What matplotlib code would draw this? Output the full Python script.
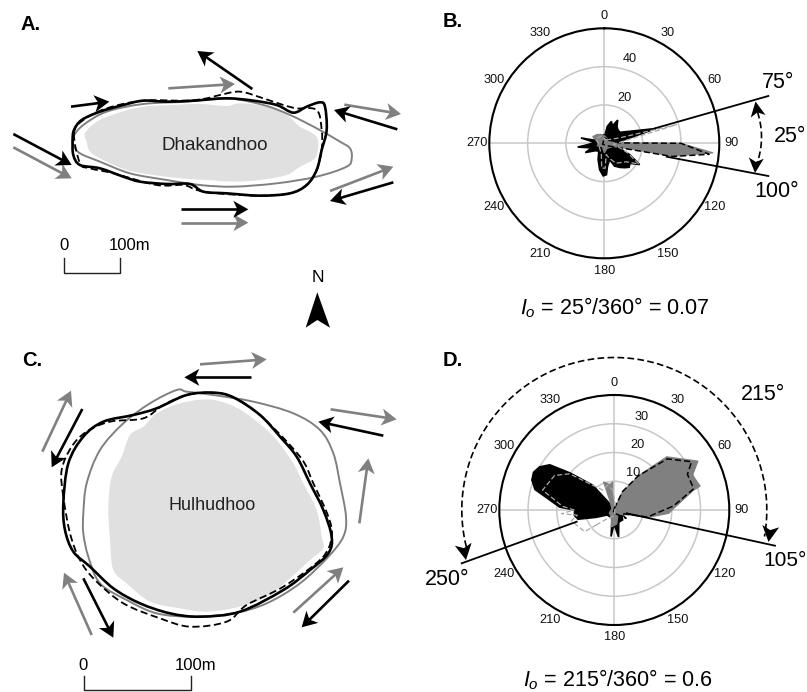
import numpy as np
import matplotlib
matplotlib.use('Agg')
import matplotlib.pyplot as plt
from matplotlib.patches import Polygon, PathPatch
from matplotlib.path import Path

plt.rcParams['font.family'] = ['Liberation Sans', 'DejaVu Sans']
plt.rcParams['mathtext.fontset'] = 'custom'
plt.rcParams['mathtext.rm'] = 'Liberation Sans'
plt.rcParams['mathtext.it'] = 'Liberation Sans:italic'

W, H = 807, 692
GREY = '#808080'
LIGHT = '#e0e0e0'
DASH = (0, (4, 2))

# Island outlines, traced at 3x scale (panel A offset 0,30 and panel C offset 0,340)
dhak_land = [(255, 310), (290, 275), (350, 250), (430, 230), (520, 225), (600, 222), (680, 228), (720, 220),
             (800, 230), (860, 255), (900, 290), (945, 315), (955, 345), (945, 385), (900, 410), (860, 435),
             (780, 450), (700, 455), (620, 450), (540, 445), (460, 435), (380, 420), (310, 390), (270, 365),
             (260, 335)]
dhak_black = [(218, 330), (222, 300), (245, 270), (300, 245), (370, 225), (430, 212), (500, 215), (580, 212),
              (680, 205), (760, 212), (830, 225), (880, 248), (920, 230), (960, 217), (975, 230), (980, 300),
              (965, 360), (950, 420), (920, 465), (870, 490), (780, 497), (680, 490), (610, 485), (570, 462),
              (500, 462), (420, 455), (370, 440), (300, 415), (240, 405), (220, 375)]
dhak_dash = [(222, 310), (250, 270), (320, 235), (430, 212), (560, 212), (620, 205), (660, 195), (720, 185),
             (790, 205), (850, 225), (890, 235), (950, 240), (965, 300), (965, 360), (950, 420), (920, 465),
             (870, 490), (780, 497), (650, 490), (590, 480), (550, 465), (470, 465), (340, 430), (270, 415),
             (240, 400)]
dhak_grey = [(220, 320), (250, 285), (320, 245), (430, 222), (560, 215), (680, 205), (790, 225), (870, 255),
             (950, 295), (1020, 335), (1050, 355), (1055, 385), (1040, 410), (950, 440), (830, 460), (700, 470),
             (600, 465), (500, 450), (390, 430), (300, 395), (240, 370), (220, 345)]
dhak_arrows_black = [((757, 177), (592, 63)), ((213, 230), (328, 215)), ((40, 312), (215, 405)),
                     ((543, 538), (745, 538)), ((1192, 298), (1002, 240)), ((1180, 457), (990, 513))]
dhak_arrows_grey = [((505, 175), (705, 162)), ((40, 352), (215, 445)), ((543, 578), (745, 578)),
                    ((1033, 224), (1203, 252)), ((990, 483), (1180, 410))]

hulh_land = [(620, 178), (680, 190), (730, 215), (790, 260), (830, 300), (880, 370), (910, 430), (950, 510),
             (965, 590), (970, 625), (930, 660), (870, 715), (800, 770), (720, 800), (620, 815), (540, 805),
             (450, 785), (380, 730), (340, 690), (330, 600), (325, 500), (335, 410), (365, 350), (390, 285),
             (430, 260), (470, 220), (540, 190)]
hulh_black = [(190, 490), (205, 370), (250, 290), (310, 245), (400, 225), (470, 205), (560, 165), (640, 158),
              (700, 172), (780, 225), (840, 290), (890, 350), (930, 430), (970, 510), (995, 590), (985, 640),
              (930, 690), (850, 750), (720, 815), (600, 830), (510, 820), (420, 790), (340, 745), (270, 680),
              (220, 635), (195, 570)]
hulh_dash = [(190, 470), (185, 390), (215, 320), (260, 275), (330, 245), (430, 235), (490, 195), (560, 165),
             (640, 158), (700, 172), (780, 225), (900, 350), (940, 430), (985, 530), (995, 590), (965, 655),
             (850, 740), (740, 795), (680, 845), (570, 860), (480, 835), (370, 790), (285, 720), (240, 660),
             (210, 580)]
hulh_grey = [(250, 520), (260, 430), (300, 330), (370, 250), (450, 190), (530, 150), (560, 155), (640, 165),
             (760, 185), (880, 220), (960, 270), (1000, 340), (1020, 430), (1038, 530), (1030, 590), (985, 650),
             (900, 730), (800, 790), (700, 820), (580, 830), (470, 820), (380, 780), (300, 730), (265, 650),
             (250, 580)]
hulh_arrows_black = [((752, 112), (553, 112)), ((1150, 287), (955, 245)), ((1047, 722), (905, 862)),
                     ((250, 715), (340, 893)), ((247, 207), (155, 382))]
hulh_arrows_grey = [((600, 73), (800, 58)), ((992, 208), (1190, 238)), ((1078, 550), (1105, 355)),
                    ((880, 818), (1030, 682)), ((275, 885), (192, 698)), ((127, 335), (213, 152))]

# Rose diagrams: (bearing in degrees, value)
b_black = [(0, 3), (10, 9), (18, 12), (25, 10), (30, 14), (37, 11), (45, 10), (55, 10), (70, 20), (74, 28),
           (78, 14), (90, 5), (104, 6.4), (114, 14.5), (121, 21.5), (128, 17), (134, 18), (140, 16.6), (147, 15),
           (156, 13), (162, 9), (172, 12), (176, 16.4), (182, 17), (190, 14), (201, 9), (215, 5), (230, 6),
           (244, 11), (250, 7), (262, 14), (265, 9), (275, 5), (283, 12.5), (288, 5), (300, 6), (330, 4),
           (355, 4.5)]
b_grey = [(0, 4), (30, 3), (60, 2), (85, 5), (89, 11), (90, 40), (95, 57), (100.7, 36), (102, 15), (110, 5),
          (150, 3), (180, 5), (210, 2), (250, 4), (270, 3), (300, 7), (320, 6), (340, 5)]
b_dash_black = [(0, 3), (60, 3), (72, 20), (74, 26), (77, 12), (85, 5), (89, 11), (90, 40), (96, 55),
                (101, 36), (103, 15), (120, 3), (240, 1)]
b_dash_light = [(30, 2), (70, 8), (75.5, 39), (80, 15), (95, 5), (112, 13), (121, 21), (130, 15), (150, 12),
                (162, 8), (170, 6), (178, 13), (186, 13), (195, 6), (260, 3), (300, 5), (340, 4)]

d_black = [(90, 0.5), (110, 1), (120, 3), (140, 4.5), (160, 4.5), (171, 9.5), (178, 5.7), (183, 5.7), (187, 9.3),
           (195, 3), (235, 3), (248, 6.8), (255.7, 13), (262, 14), (270, 13.8), (273, 19), (284.5, 28.5),
           (290, 30.5), (295, 31), (300, 30), (305, 27.4), (310, 20), (319, 11.4), (0, 0.5)]
d_grey = [(0, 0.5), (24.4, 7), (35.5, 14.8), (44.6, 26), (59.7, 33.7), (66, 29.8), (74.5, 31), (76, 28.4),
          (88.4, 20.7), (93.5, 19), (102, 12.3), (110, 4.9), (140, 2), (170, 5), (190, 6), (200, 3), (240, 2),
          (300, 1), (335, 4), (339, 10.5), (350, 9), (357, 9.8), (355, 6)]
d_dash_black = [(0, 0.5), (24, 7), (35, 14.5), (46, 25.6), (58, 31.7), (64, 28.3), (75, 28.6), (86, 20.7),
                (102, 11.8), (110, 4), (120, 3), (125, 5), (200, 1)]
d_dash_light = [(230, 8), (234, 12.8), (256, 15.4), (262, 13), (266, 18.4), (270, 14), (274, 18), (285.5, 25.9),
                (300, 24), (309, 20), (319, 11.4), (330, 8), (345, 9), (355, 7), (10, 2), (180, 2), (220, 4)]

b_rings = [20, 40, 60]
d_rings = [10, 20, 30, 40]
bearing_ticks = [0, 30, 60, 90, 120, 150, 180, 210, 240, 270, 300, 330]


def zoomed(points, x0, y0):
    return [(x0 + p[0] / 3, y0 + p[1] / 3) for p in points]


def smooth_path(points):
    # closed bezier through the traced points, so the coasts do not look polygonal
    pts = np.array(points, dtype=float)
    n = len(pts)
    verts = [pts[0]]
    codes = [Path.MOVETO]
    for i in range(n):
        p0, p1, p2, p3 = pts[i - 1], pts[i], pts[(i + 1) % n], pts[(i + 2) % n]
        verts += [p1 + (p2 - p0) / 6, p2 - (p3 - p1) / 6, p2]
        codes += [Path.CURVE4] * 3
    return Path(verts, codes)


def arrow_head(ax, tip, angle, color, length=15, width=17, notch=4):
    ux, uy = np.cos(angle), np.sin(angle)
    nx, ny = -uy, ux
    tx, ty = tip
    pts = [(tx, ty),
           (tx - length * ux + width / 2 * nx, ty - length * uy + width / 2 * ny),
           (tx - (length - notch) * ux, ty - (length - notch) * uy),
           (tx - length * ux - width / 2 * nx, ty - length * uy - width / 2 * ny)]
    ax.add_patch(Polygon(pts, closed=True, facecolor=color, edgecolor='none', zorder=6))


def current_arrow(ax, tail, tip, color):
    angle = np.arctan2(tip[1] - tail[1], tip[0] - tail[0])
    ax.plot([tail[0], tip[0] - 8 * np.cos(angle)], [tail[1], tip[1] - 8 * np.sin(angle)],
            color=color, lw=1.9, solid_capstyle='butt', zorder=5)
    arrow_head(ax, tip, angle, color)


def draw_island(ax, land, black, dash, grey, arrows_black, arrows_grey, x0, y0):
    ax.add_patch(PathPatch(smooth_path(zoomed(land, x0, y0)), facecolor=LIGHT, edgecolor='none', zorder=1))
    ax.add_patch(PathPatch(smooth_path(zoomed(grey, x0, y0)), fill=False, edgecolor=GREY, lw=1.4, zorder=2))
    ax.add_patch(PathPatch(smooth_path(zoomed(dash, x0, y0)), fill=False, edgecolor='black', lw=1.3,
                           linestyle=DASH, zorder=3))
    ax.add_patch(PathPatch(smooth_path(zoomed(black, x0, y0)), fill=False, edgecolor='black', lw=1.9, zorder=4))
    for tail, tip in arrows_grey:
        (a, b) = zoomed([tail, tip], x0, y0)
        current_arrow(ax, a, b, GREY)
    for tail, tip in arrows_black:
        (a, b) = zoomed([tail, tip], x0, y0)
        current_arrow(ax, a, b, 'black')


def rose(series):
    deg = [p[0] for p in series] + [series[0][0]]
    val = [p[1] for p in series] + [series[0][1]]
    return np.radians(deg), val


def draw_rose(cx, cy, rmax, rings, black, grey, dash_black, dash_light, ring_labels):
    ax = fig.add_axes([(cx - 115) / W, (H - cy - 115) / H, 230 / W, 230 / H], projection='polar')
    ax.set_theta_zero_location('N')
    ax.set_theta_direction(-1)
    ax.set_ylim(0, rmax)
    ax.set_thetagrids([0, 90, 180, 270], labels=[])
    ax.set_rgrids(rings, labels=[])
    ax.grid(color='#c8c8c8', lw=1.1)
    ax.spines['polar'].set_linewidth(1.5)
    ax.tick_params(length=0)
    ax.set_axisbelow(True)

    t, v = rose(black)
    ax.fill(t, v, color='black', lw=1.2, zorder=3)
    t, v = rose(grey)
    ax.fill(t, v, color=GREY, lw=0.8, zorder=4)
    t, v = rose(dash_black)
    ax.plot(t, v, color='black', lw=1.1, linestyle=DASH, zorder=5)
    t, v = rose(dash_light)
    ax.plot(t, v, color='#a8a8a8', lw=0.9, linestyle=DASH, zorder=5)

    for b in bearing_ticks:
        ax.text(np.radians(b), rmax * 127.5 / 115, str(b), fontsize=9.2, ha='center', va='center',
                color='#111111', clip_on=False)
    for ang, r, label in ring_labels:
        ax.text(np.radians(ang), r, label, fontsize=9.2, ha='center', va='center', color='#111111')
    return ax


fig = plt.figure(figsize=(W / 100, H / 100), dpi=100)
fig.patch.set_facecolor('white')

draw_rose(604.3, 143.3, 60, b_rings, b_black, b_grey, b_dash_black, b_dash_light,
          [(17, 45.8, '40'), (24.4, 26.1, '20')])
draw_rose(614.3, 510, 40, d_rings, d_black, d_grey, d_dash_black, d_dash_light,
          [(16.4, 33.8, '30'), (19.5, 24, '20'), (27, 14.6, '10')])

# overlay in image pixels for the maps and annotation
ov = fig.add_axes([0, 0, 1, 1], zorder=10)
ov.set_xlim(0, W)
ov.set_ylim(H, 0)
ov.axis('off')

draw_island(ov, dhak_land, dhak_black, dhak_dash, dhak_grey, dhak_arrows_black, dhak_arrows_grey, 0, 30)
draw_island(ov, hulh_land, hulh_black, hulh_dash, hulh_grey, hulh_arrows_black, hulh_arrows_grey, 0, 340)

ov.text(214.3, 145, 'Dhakandhoo', fontsize=13.6, ha='center', va='center', color='#222222', zorder=7)
ov.text(212, 505.7, 'Hulhudhoo', fontsize=13, ha='center', va='center', color='#222222', zorder=7)

for label, x, y in [('A.', 31, 24), ('B.', 452.7, 21.7), ('C.', 31.7, 360.7), ('D.', 452.7, 360.7)]:
    ov.text(x, y, label, fontsize=14.5, fontweight='bold', ha='center', va='center')

# scale bars
ov.plot([64.3, 64.3, 120, 120], [258.3, 273.3, 273.3, 258.3], color='#222222', lw=1.0)
ov.text(64.3, 246, '0', fontsize=12, ha='center', va='center')
ov.text(130, 246, '100m', fontsize=12, ha='center', va='center')
ov.plot([84.3, 84.3, 191, 191], [676, 690, 690, 676], color='#222222', lw=1.0)
ov.text(83.3, 666, '0', fontsize=12, ha='center', va='center')
ov.text(196, 666, '100m', fontsize=12, ha='center', va='center')

# north arrow
ov.text(318, 278, 'N', fontsize=12.5, ha='center', va='center')
ov.add_patch(Polygon([(317.3, 292.3), (330, 327.7), (317.3, 320), (305.7, 327.7)], closed=True,
                     facecolor='black', edgecolor='none'))

# panel B annotation
ov.plot([655, 768.3], [128.3, 96], color='black', lw=1.3)
ov.plot([666.7, 768.3], [156.7, 176], color='black', lw=1.3)
arc_y = np.linspace(112, 165, 40)
arc_x = 761.5 - (np.abs(arc_y - 137) / 25) ** 2 * 4
ov.plot(arc_x, arc_y, color='black', lw=1.2, linestyle=DASH)
arrow_head(ov, (755.5, 101.5), np.radians(-100), 'black', length=15, width=15)
arrow_head(ov, (755, 173), np.radians(95), 'black', length=15, width=15)
ov.text(778, 83, '75°', fontsize=15.5, ha='center', va='center')
ov.text(790, 136.7, '25°', fontsize=15.5, ha='center', va='center')
ov.text(776.7, 191.7, '100°', fontsize=15.5, ha='center', va='center')
ov.text(615, 308, '$\\mathit{I_o}$ = 25°/360° = 0.07', fontsize=15.5, ha='center', va='center')

# panel D annotation
ov.plot([626.7, 775], [513.3, 545.7], color='black', lw=1.3)
ov.plot([576.7, 461.7], [521.7, 563.3], color='black', lw=1.3)
arc_t = np.radians(np.linspace(256, 460, 200))
ov.plot(614.3 + 152.5 * np.sin(arc_t), 510 - 152.5 * np.cos(arc_t), color='black', lw=1.2, linestyle=DASH)
arrow_head(ov, (466, 560), np.radians(80), 'black', length=16, width=17)
arrow_head(ov, (768.5, 542), np.radians(98), 'black', length=16, width=17)
ov.text(763.3, 395, '215°', fontsize=15.5, ha='center', va='center')
ov.text(785.5, 560, '105°', fontsize=15, ha='center', va='center')
ov.text(446.7, 579.3, '250°', fontsize=15.5, ha='center', va='center')
ov.text(618.3, 680, '$\\mathit{I_o}$ = 215°/360° = 0.6', fontsize=15.5, ha='center', va='center')

fig.savefig('out.png', dpi=100)
